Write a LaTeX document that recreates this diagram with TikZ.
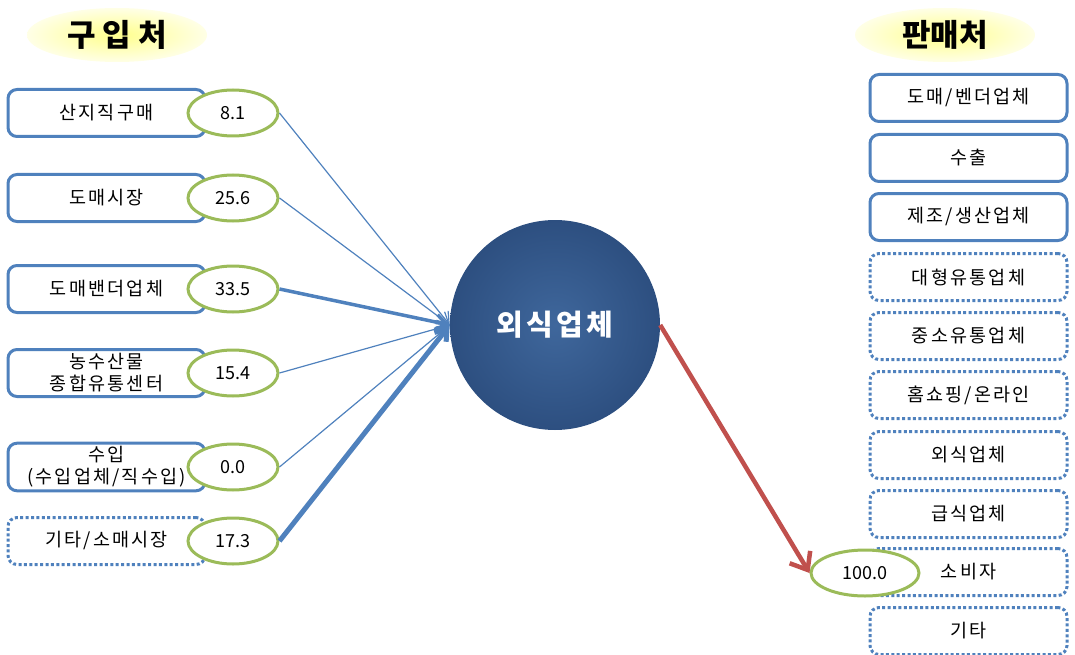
\documentclass[tikz,border=0pt]{standalone}
\usepackage{fontspec}
\setmainfont{Noto Sans CJK KR}
\newfontfamily\krsp{Noto Sans CJK KR}[LetterSpace=12]
\usetikzlibrary{arrows.meta,shapes.geometric}
\definecolor{boxblue}{HTML}{4F81BD}
\definecolor{ringgreen}{HTML}{9BBB59}
\definecolor{flowred}{HTML}{C0504D}
\definecolor{hubin}{HTML}{3F679C}
\definecolor{hubout}{HTML}{2D4F80}
\definecolor{titin}{HTML}{FFFF8C}
\definecolor{titout}{HTML}{FFFFE6}

\tikzset{
	srcbox/.style={draw=boxblue, line width=3pt, rounded corners=9pt, fill=white,
		minimum width=197pt, minimum height=47pt, align=center,
		font=\krsp\fontsize{18.5}{22}\selectfont},
	dotbox/.style={srcbox, dash pattern=on 3pt off 2.4pt},
	rate/.style={ellipse, draw=ringgreen, line width=3pt, fill=white,
		minimum width=90pt, minimum height=46pt, inner sep=0pt,
		font=\fontsize{18}{20}\selectfont},
	title/.style={ellipse, inner color=titin, outer color=titout,
		minimum width=180pt, minimum height=54pt, font=\bfseries\fontsize{31}{34}\selectfont},
	flow/.style={draw=boxblue, -{Straight Barb[length=11pt,width=15pt]}}
}

\begin{document}
\begin{tikzpicture}[x=1pt,y=-1pt]
	\useasboundingbox (0,0) rectangle (1075,655);
	% titles
	\node[title] (buy) at (117,35) {구 입 처};
	\node[title] (sell) at (945,35) {판매처};

	% purchase side
	\foreach \n/\y/\txt in {1/113/산지직구매, 2/198/도매시장, 3/289/도매밴더업체,
		4/373/{농수산물\\종합유통센터}, 5/467/{수입\\(수입업체/직수입)}}
		\node[srcbox] (s\n) at (106.5,\y) {\txt};
	\node[dotbox] (s6) at (106.5,541) {기타/소매시장};
	\foreach \n/\y/\val in {1/113/8.1, 2/198/25.6, 3/289/33.5, 4/373/15.4, 5/467/0.0, 6/541/17.3}
		\node[rate] (r\n) at (233,\y) {\val};

	% hub
	\node[circle, minimum size=210pt, inner color=hubin, outer color=hubout,
		text=white, font=\krsp\bfseries\fontsize{29}{31}\selectfont] (hub) at (555,325) {외식업체};

	\foreach \n/\lw in {1/1.2pt, 2/1.2pt, 3/3.5pt, 4/1.2pt, 5/1.2pt, 6/5pt}
		\draw[flow, line width=\lw] (r\n.east) -- (hub.west);

	% sales side
	\foreach \n/\y/\txt in {1/98/{도매/벤더업체}, 2/158/수출, 3/217/{제조/생산업체}}
		\node[srcbox] (d\n) at (968.5,\y) {\txt};
	\foreach \n/\y/\txt in {4/277/대형유통업체, 5/336/중소유통업체, 6/395/{홈쇼핑/온라인},
		7/455/외식업체, 8/514/급식업체, 9/572/소비자, 10/631/기타}
		\node[dotbox] (d\n) at (968.5,\y) {\txt};
	\node[rate, minimum width=108pt] (r0) at (865,573) {100.0};

	\draw[flowred, line width=4.5pt, -{Straight Barb[length=15pt,width=24pt]}]
		(hub.east) -- (r0.west);
\end{tikzpicture}
\end{document}
